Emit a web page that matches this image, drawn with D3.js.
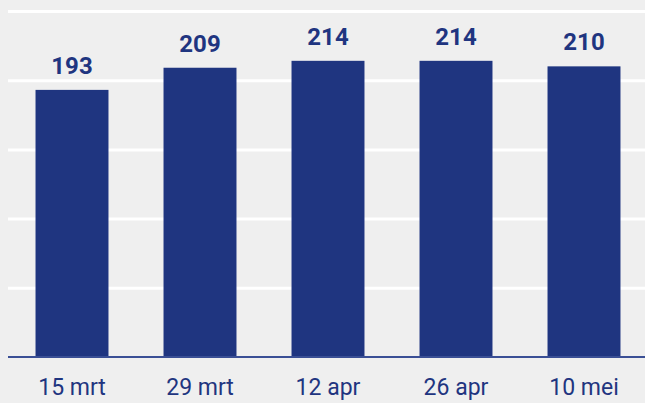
<!DOCTYPE html>
<html>
<head>
<meta charset="utf-8">
<script src="https://cdn.jsdelivr.net/npm/d3@7"></script>
<style>
  body { margin: 0; background: #efefef; }
  svg { display: block; }
  .grid line { stroke: #ffffff; stroke-width: 3; }
  .grid path { display: none; }
  .x_axis path, .x_axis line { display: none; }
  .x_axis text { font-family: Roboto, sans-serif; font-size: 23px; fill: #1f3580; }
  .value { font-family: Roboto, sans-serif; font-size: 24px; font-weight: bold; fill: #1f3580; }
</style>
</head>
<body>
<div id="chart"></div>
<script>
// data
var dates = ["15 mrt", "29 mrt", "12 apr", "26 apr", "10 mei"];
var values = [193, 209, 214, 214, 210];
var gridTicks = [50, 100, 150, 200, 250];

var width = 645, height = 403;
var margin = {left: 8, right: -3, top: 11, bottom: 46};

var svg = d3.select("#chart").append("svg")
    .attr("width", width)
    .attr("height", height);

// Scales
var xScale = d3.scaleBand()
    .domain(dates)
    .range([margin.left, width - margin.right])
    .paddingInner(0.43)
    .paddingOuter(0.215);

var yScale = d3.scaleLinear()
    .domain([0, 250])
    .range([height - margin.bottom, margin.top]);

// gridlines
svg.append("g")
    .attr("class", "grid")
    .attr("transform", "translate(" + margin.left + ",0)")
    .call(d3.axisLeft(yScale).tickValues(gridTicks)
        .tickSize(-(width - margin.left)).tickFormat(""));

// bars
svg.selectAll(".bar")
    .data(values)
    .enter().append("rect")
    .attr("class", "bar")
    .attr("x", function (d, i) { return xScale(dates[i]); })
    .attr("y", function (d) { return yScale(d); })
    .attr("width", xScale.bandwidth())
    .attr("height", function (d) { return yScale(0) - yScale(d); })
    .attr("fill", "#1f3580");

// baseline
svg.append("line")
    .attr("x1", margin.left)
    .attr("x2", width)
    .attr("y1", yScale(0))
    .attr("y2", yScale(0))
    .attr("stroke", "#3a4f95")
    .attr("stroke-width", 2);

// value labels
svg.selectAll(".value")
    .data(values)
    .enter().append("text")
    .attr("class", "value")
    .attr("x", function (d, i) { return xScale(dates[i]) + xScale.bandwidth() / 2; })
    .attr("y", function (d) { return yScale(d) - 16; })
    .attr("text-anchor", "middle")
    .text(function (d) { return d; });

// x axis
svg.append("g")
    .attr("class", "x_axis")
    .attr("transform", "translate(0," + yScale(0) + ")")
    .call(d3.axisBottom(xScale).tickSize(0).tickPadding(22))
    .selectAll("text").attr("dy", "0.71em");
</script>
</body>
</html>
